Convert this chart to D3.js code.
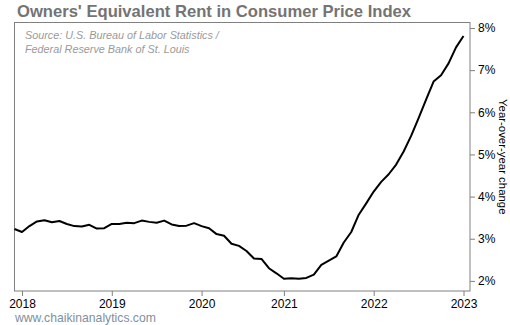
<!DOCTYPE html>
<html>
<head>
<meta charset="utf-8">
<script src="https://cdnjs.cloudflare.com/ajax/libs/d3/7.8.5/d3.min.js"></script>
<style>
  body { margin: 0; background: #fff; }
  svg { display: block; font-family: "Liberation Sans", Arial, sans-serif; }
</style>
</head>
<body>
<div id="chart"></div>
<script>
// OER year-over-year change, monthly, Dec 2017 .. Jan 2023
const oerValues = [
  3.23, 3.16, 3.30, 3.41, 3.44, 3.39, 3.42, 3.35, 3.30, 3.29, 3.33, 3.24,
  3.25, 3.35, 3.35, 3.38, 3.37, 3.43, 3.40, 3.38, 3.43, 3.34, 3.30, 3.31,
  3.37, 3.30, 3.25, 3.11, 3.07, 2.88, 2.83, 2.71, 2.53, 2.52, 2.30, 2.18,
  2.05, 2.06, 2.05, 2.07, 2.15, 2.38, 2.48, 2.58, 2.91, 3.16, 3.57, 3.84,
  4.12, 4.35, 4.53, 4.76, 5.07, 5.44, 5.86, 6.30, 6.73, 6.88, 7.16, 7.54,
  7.81
];
// which point each year label sits on
const yearTickIndex = [1, 13, 25, 36, 48, 60];
const yearLabels = ["2018", "2019", "2020", "2021", "2022", "2023"];
const yTicks = [2, 3, 4, 5, 6, 7, 8];

const width = 510;
const height = 325;
const plotLeft = 14.5, plotRight = 470, plotTop = 22.5, plotBottom = 291;

const svg = d3.select("#chart").append("svg")
    .attr("width", width)
    .attr("height", height);

const x = d3.scaleLinear().domain([0, oerValues.length - 1]).range([plotLeft, 463.5]);
const y = d3.scaleLinear().domain([1.76, 8.13]).range([plotBottom, plotTop]);

// title
svg.append("text")
    .attr("x", 17)
    .attr("y", 17)
    .attr("font-size", "16.6px")
    .attr("font-weight", "bold")
    .attr("fill", "#747474")
    .text("Owners' Equivalent Rent in Consumer Price Index");

// plot frame
svg.append("rect")
    .attr("x", plotLeft)
    .attr("y", plotTop)
    .attr("width", plotRight - plotLeft)
    .attr("height", plotBottom - plotTop)
    .attr("fill", "none")
    .attr("stroke", "#808080")
    .attr("stroke-width", 1);

// source note
const source = svg.append("text")
    .attr("font-size", "10.8px")
    .attr("font-style", "italic")
    .attr("fill", "#9a9a9a");
source.append("tspan").attr("x", 25).attr("y", 39).text("Source: U.S. Bureau of Labor Statistics /");
source.append("tspan").attr("x", 25).attr("y", 53).text("Federal Reserve Bank of St. Louis");

// right axis
const yAxis = svg.append("g")
    .attr("transform", `translate(${plotRight},0)`)
    .call(d3.axisRight(y).tickValues(yTicks).tickSize(5).tickPadding(3)
        .tickFormat(d => d + "%"));
yAxis.select(".domain").remove();
yAxis.selectAll(".tick line").attr("stroke", "#808080");
yAxis.selectAll(".tick text").attr("font-size", "12px").attr("fill", "#000")
    .attr("font-family", "Liberation Sans, Arial, sans-serif");

// bottom axis
const xAxis = svg.append("g")
    .attr("transform", `translate(0,${plotBottom})`)
    .call(d3.axisBottom(x).tickValues(yearTickIndex).tickSize(5).tickPadding(3)
        .tickFormat((d, i) => yearLabels[i]));
xAxis.select(".domain").remove();
xAxis.selectAll(".tick line").attr("stroke", "#808080");
xAxis.selectAll(".tick text").attr("font-size", "12px").attr("fill", "#000")
    .attr("font-family", "Liberation Sans, Arial, sans-serif");

// y axis title, reads top to bottom
svg.append("text")
    .attr("transform", `translate(499,${(plotTop + plotBottom) / 2}) rotate(90)`)
    .attr("text-anchor", "middle")
    .attr("font-size", "11.4px")
    .attr("fill", "#000")
    .text("Year-over-year change");

// the line
const line = d3.line()
    .x((d, i) => x(i))
    .y(d => y(d));

svg.append("path")
    .datum(oerValues)
    .attr("fill", "none")
    .attr("stroke", "#000")
    .attr("stroke-width", 2)
    .attr("stroke-linejoin", "round")
    .attr("d", line);

// footer
svg.append("text")
    .attr("x", 15)
    .attr("y", 322)
    .attr("font-size", "12.2px")
    .attr("fill", "#8090a0")
    .text("www.chaikinanalytics.com");
</script>
</body>
</html>
